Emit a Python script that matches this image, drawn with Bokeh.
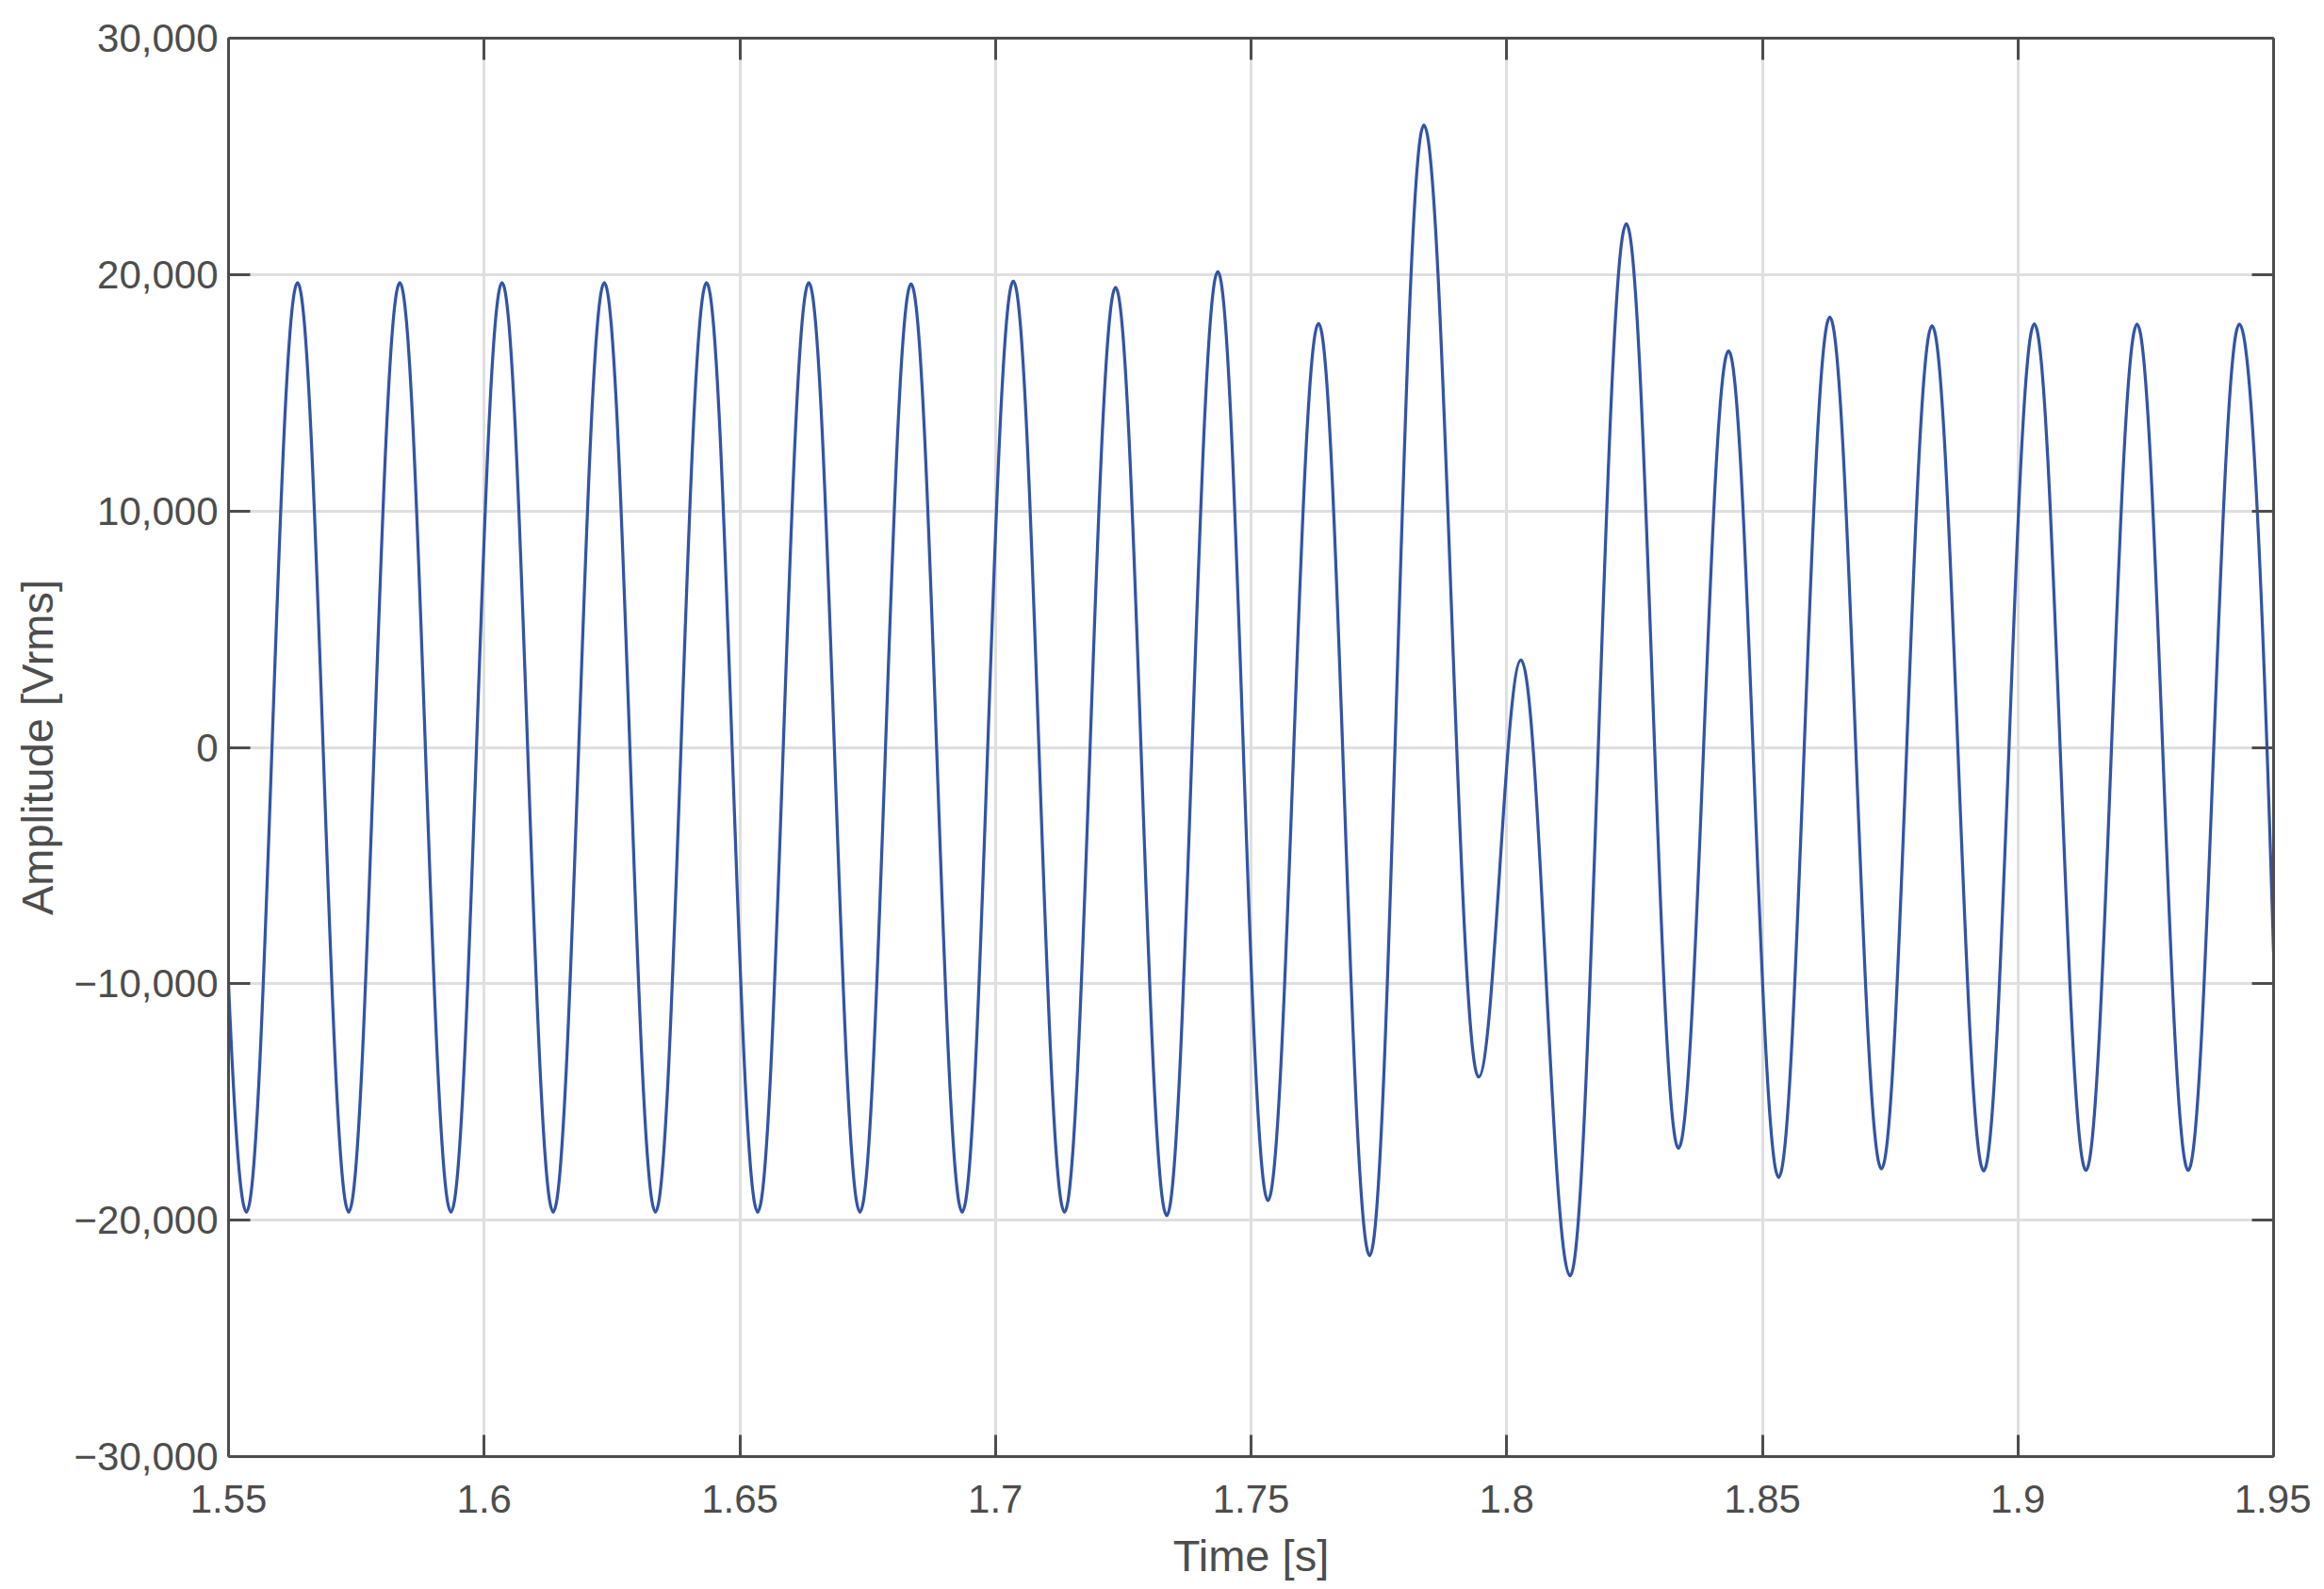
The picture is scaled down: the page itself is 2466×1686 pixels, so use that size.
from bokeh.plotting import figure
from bokeh.models import ColumnDataSource, LinearAxis, FixedTicker, Range1d
from bokeh.embed import file_html
from bokeh.resources import INLINE

# ---- data: successive extrema of the waveform ----
# first and last entries are the values at the plot edges
knot_time = [1.55,
             1.5535, 1.5635, 1.5735, 1.5835, 1.5935, 1.6035, 1.6135, 1.6235,
             1.6335, 1.6435, 1.6535, 1.6635, 1.6735, 1.6835, 1.6935, 1.7035,
             1.7135, 1.7235, 1.7335, 1.7435, 1.7533, 1.7632, 1.7732, 1.7838,
             1.7945, 1.8028, 1.8124, 1.8234, 1.8336, 1.8434, 1.8532, 1.8632,
             1.8733, 1.8832, 1.8933, 1.9032, 1.9133, 1.9233, 1.9333, 1.9433,
             1.95]
knot_value = [-10000,
              -19650, 19650, -19650, 19650, -19650, 19650, -19650, 19650,
              -19650, 19650, -19650, 19650, -19650, 19600, -19650, 19720,
              -19650, 19450, -19800, 20120, -19160, 17930, -21490, 26320,
              -13940, 3690, -22350, 22140, -16950, 16770, -18180, 18190,
              -17820, 17830, -17910, 17910, -17890, 17900, -17890, 17900,
              -8700]

x_ticks = [1.55, 1.6, 1.65, 1.7, 1.75, 1.8, 1.85, 1.9, 1.95]
x_tick_labels = ["1.55", "1.6", "1.65", "1.7", "1.75", "1.8", "1.85", "1.9", "1.95"]
y_ticks = [-30000, -20000, -10000, 0, 10000, 20000, 30000]
y_tick_labels = ["\u221230,000", "\u221220,000", "\u221210,000", "0", "10,000", "20,000", "30,000"]

# ---- build smooth Bezier segments between extrema (horizontal tangents) ----
K = 0.3634  # control distance giving a near-sinusoidal half wave
seg = dict(x0=[], y0=[], x1=[], y1=[], cx0=[], cy0=[], cx1=[], cy1=[])
n = len(knot_time)
for i in range(n - 1):
    t0, v0 = knot_time[i], knot_value[i]
    t1, v1 = knot_time[i + 1], knot_value[i + 1]
    dt = t1 - t0
    if i == 0:
        m0 = 1.83 * (v1 - v0) / dt
        c0 = (t0 + dt / 3, v0 + m0 * dt / 3)
        c1 = (t1 - dt / 3, v1)
    elif i == n - 2:
        m1 = 1.83 * (v1 - v0) / dt
        c0 = (t0 + dt / 3, v0)
        c1 = (t1 - dt / 3, v1 - m1 * dt / 3)
    else:
        c0 = (t0 + K * dt, v0)
        c1 = (t1 - K * dt, v1)
    seg["x0"].append(t0); seg["y0"].append(v0)
    seg["x1"].append(t1); seg["y1"].append(v1)
    seg["cx0"].append(c0[0]); seg["cy0"].append(c0[1])
    seg["cx1"].append(c1[0]); seg["cy1"].append(c1[1])
source = ColumnDataSource(seg)

AX = "#4d4d4d"
GRID = "#dfdfdf"
FONT = "Liberation Sans"
TICK_FS = "42px"
LABEL_FS = "47px"

p = figure(output_backend="svg", toolbar_location=None,
           frame_width=2170, frame_height=1505,
           x_range=Range1d(1.55, 1.95), y_range=Range1d(-30000, 30000),
           x_axis_location=None, y_axis_location=None,
           min_border_left=242, min_border_right=40,
           min_border_top=40, min_border_bottom=131)
p.outline_line_color = None
p.background_fill_color = "white"
p.border_fill_color = "white"

xt = FixedTicker(ticks=x_ticks)
yt = FixedTicker(ticks=y_ticks)


def style(ax, show):
    ax.axis_line_color = AX
    ax.axis_line_width = 3
    ax.major_tick_line_color = AX
    ax.major_tick_line_width = 3
    ax.major_tick_in = 23
    ax.major_tick_out = 0
    ax.minor_tick_line_color = None
    ax.major_label_text_font = FONT
    ax.axis_label_text_font = FONT
    ax.axis_label_text_color = AX
    ax.axis_label_text_font_style = "normal"
    ax.axis_label_text_font_size = LABEL_FS
    if show:
        ax.major_label_text_font_size = TICK_FS
        ax.major_label_text_color = AX
    else:
        ax.major_label_text_font_size = "1px"
        ax.major_label_text_color = None
        ax.major_label_standoff = 0


xb = LinearAxis(ticker=xt, axis_label="Time [s]")
style(xb, True)
xb.major_label_overrides = dict(zip(x_ticks, x_tick_labels))
xb.major_label_standoff = 30
xb.axis_label_standoff = 16
p.add_layout(xb, "below")

yl = LinearAxis(ticker=yt, axis_label="Amplitude [Vrms]")
style(yl, True)
yl.major_label_overrides = dict(zip(y_ticks, y_tick_labels))
yl.major_label_standoff = 11
yl.axis_label_standoff = 10
p.add_layout(yl, "left")

xa = LinearAxis(ticker=xt)
style(xa, False)
p.add_layout(xa, "above")
yr = LinearAxis(ticker=yt)
style(yr, False)
p.add_layout(yr, "right")

p.xgrid.ticker = xt
p.ygrid.ticker = yt
for g in (p.xgrid, p.ygrid):
    g.grid_line_color = GRID
    g.grid_line_width = 3

p.bezier(x0="x0", y0="y0", x1="x1", y1="y1", cx0="cx0", cy0="cy0",
         cx1="cx1", cy1="cy1", source=source,
         line_color="#3354a6", line_width=3.25, line_cap="round")

open("out.html", "w").write(file_html(p, INLINE))
